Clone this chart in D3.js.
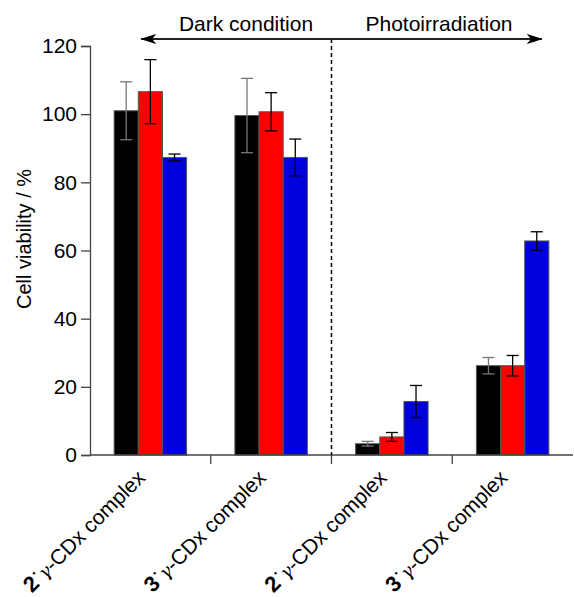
<!DOCTYPE html>
<html>
<head>
<meta charset="utf-8">
<script src="https://cdn.jsdelivr.net/npm/d3@7"></script>
<style>
  body { margin: 0; background: #fff; }
  text { font-family: "Liberation Sans", Arial, sans-serif; fill: #000; }
</style>
</head>
<body>
<div id="chart"></div>
<script>
// chart data
const groups = ['2', '3', '2', '3'];       // compound number for each complex
const seriesColors = ['#000000', '#ff0000', '#0000dd'];
const meanBlack = [101, 99.6, 3.3, 26.2];
const meanRed = [106.6, 100.7, 5.3, 26.2];
const meanBlue = [87.3, 87.3, 15.7, 62.8];
const errBlack = [8.5, 10.9, 0.7, 2.4];
const errRed = [9.4, 5.6, 1.3, 3.0];
const errBlue = [1.0, 5.4, 4.7, 2.7];
const yTicks = [0, 20, 40, 60, 80, 100, 120];
const conditionLabels = ['Dark condition', 'Photoirradiation'];

const width = 574, height = 597;
const margin = { top: 46, right: 1, bottom: 142, left: 90 };

const svg = d3.select('#chart').append('svg')
  .attr('width', width)
  .attr('height', height);

const x = d3.scaleBand()
  .domain(d3.range(groups.length))
  .range([margin.left, width - margin.right])
  .paddingInner(0.4)
  .paddingOuter(0.2);

// band for tick positions (without padding)
const xTick = d3.scaleBand()
  .domain(d3.range(groups.length))
  .range([margin.left, width - margin.right]);

const xSeries = d3.scaleBand()
  .domain(d3.range(3))
  .range([0, x.bandwidth()]);

const y = d3.scaleLinear()
  .domain([0, 120])
  .range([height - margin.bottom, margin.top]);

const axisColor = '#444';

// y axis
const yAxis = svg.append('g')
  .attr('transform', `translate(${margin.left},0)`)
  .call(d3.axisLeft(y).tickValues(yTicks).tickSize(9).tickPadding(4));
yAxis.select('.domain').attr('stroke', axisColor).attr('stroke-width', 1.3);
yAxis.selectAll('.tick line').attr('stroke', axisColor).attr('stroke-width', 1.3);
yAxis.selectAll('.tick text')
  .style('font-family', '"Liberation Sans", Arial, sans-serif')
  .style('font-size', '21px')
  .attr('fill', '#000');

svg.append('text')
  .attr('transform', 'translate(31,239) rotate(-90)')
  .attr('text-anchor', 'middle')
  .style('font-size', '20px')
  .text('Cell viability / %');

// bars
const means = [meanBlack, meanRed, meanBlue];
const errs = [errBlack, errRed, errBlue];
const errColors = ['#777', '#000', '#000'];

means.forEach((vals, s) => {
  const g = svg.append('g');
  g.selectAll('rect')
    .data(vals)
    .enter()
    .append('rect')
    .attr('x', (d, i) => x(i) + xSeries(s))
    .attr('y', d => y(d))
    .attr('width', xSeries.bandwidth())
    .attr('height', d => y(0) - y(d))
    .attr('fill', seriesColors[s])
    .attr('stroke', '#555')
    .attr('stroke-width', 1);
});

// error bars
const cap = 6;
means.forEach((vals, s) => {
  const g = svg.append('g')
    .attr('stroke', errColors[s])
    .attr('stroke-width', 1.3);
  vals.forEach((m, i) => {
    const cx = x(i) + xSeries(s) + xSeries.bandwidth() / 2;
    const lo = y(m - errs[s][i]);
    const hi = y(m + errs[s][i]);
    g.append('line').attr('x1', cx).attr('x2', cx).attr('y1', lo).attr('y2', hi);
    g.append('line').attr('x1', cx - cap).attr('x2', cx + cap).attr('y1', lo).attr('y2', lo);
    g.append('line').attr('x1', cx - cap).attr('x2', cx + cap).attr('y1', hi).attr('y2', hi);
  });
});

// x axis
const xAxisG = svg.append('g')
  .attr('transform', `translate(0,${y(0)})`);
xAxisG.append('line')
  .attr('x1', margin.left).attr('x2', width - margin.right)
  .attr('stroke', axisColor).attr('stroke-width', 1.3);
xAxisG.selectAll('line.tick')
  .data(d3.range(1, groups.length))
  .enter()
  .append('line')
  .attr('class', 'tick')
  .attr('x1', i => xTick(i)).attr('x2', i => xTick(i))
  .attr('y1', 0).attr('y2', 9)
  .attr('stroke', axisColor).attr('stroke-width', 1.3);

// rotated category labels
groups.forEach((num, i) => {
  const cx = x(i) + x.bandwidth() / 2;
  const t = svg.append('text')
    .attr('transform', `translate(${cx - 4},${y(0) + 24}) rotate(-45)`)
    .attr('text-anchor', 'end')
    .style('font-size', '21px');
  t.append('tspan').style('font-weight', 'bold').style('font-size', '22px').text(num);
  t.append('tspan').attr('dy', -7).text('·');
  t.append('tspan').attr('dy', 7)
    .style('font-family', '"DejaVu Serif", "Liberation Serif", serif')
    .style('font-style', 'italic').style('font-size', '18px').text('γ');
  t.append('tspan').text('-CDx complex');
});

// condition divider
const divX = xTick(2);
const arrowY = 39;
svg.append('line')
  .attr('x1', divX).attr('x2', divX)
  .attr('y1', arrowY).attr('y2', y(0))
  .attr('stroke', '#000')
  .attr('stroke-width', 1.5)
  .attr('stroke-dasharray', '4,3');

const defs = svg.append('defs');
defs.append('marker')
  .attr('id', 'head')
  .attr('viewBox', '0 0 16 10')
  .attr('refX', 15).attr('refY', 5)
  .attr('markerWidth', 16).attr('markerHeight', 10)
  .attr('markerUnits', 'userSpaceOnUse')
  .attr('orient', 'auto-start-reverse')
  .append('path')
  .attr('d', 'M0,0 L16,5 L0,10 L4,5 Z')
  .attr('fill', '#000');

svg.append('line')
  .attr('x1', x(0) + 27).attr('x2', x(3) + x.bandwidth() - 7)
  .attr('y1', arrowY).attr('y2', arrowY)
  .attr('stroke', '#222')
  .attr('stroke-width', 2)
  .attr('marker-start', 'url(#head)')
  .attr('marker-end', 'url(#head)');

svg.append('text')
  .attr('x', 246).attr('y', 31)
  .attr('text-anchor', 'middle')
  .style('font-size', '21px')
  .text(conditionLabels[0]);
svg.append('text')
  .attr('x', 439).attr('y', 31)
  .attr('text-anchor', 'middle')
  .style('font-size', '21px')
  .text(conditionLabels[1]);
</script>
</body>
</html>
